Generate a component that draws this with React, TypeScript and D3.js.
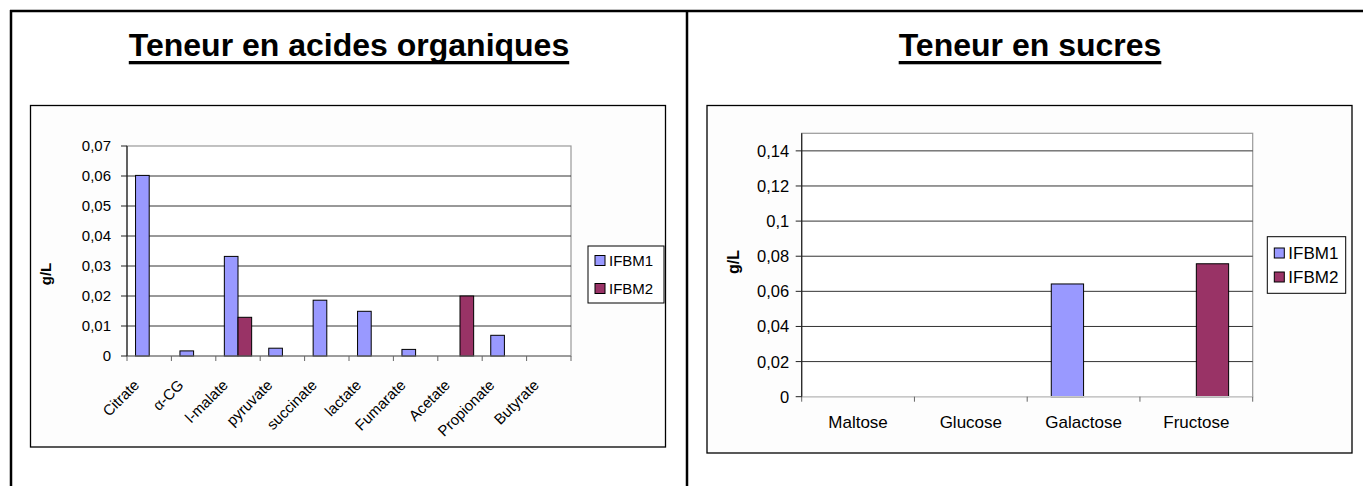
import React, { useLayoutEffect, useRef, useState } from "react";
import * as d3 from "d3";

// ---------- DATA ----------
const SERIES = ["IFBM1", "IFBM2"];
const COLORS = ["#9999FF", "#993366"];

const ACID_CATEGORIES = ["Citrate", "α-CG", "l-malate", "pyruvate", "succinate", "lactate", "Fumarate", "Acetate", "Propionate", "Butyrate"];
const ACID_IFBM1 = [0.0602, 0.0017, 0.0332, 0.0026, 0.0186, 0.0149, 0.0022, 0, 0.0069, 0];
const ACID_IFBM2 = [0, 0, 0.0129, 0, 0, 0, 0, 0.0200, 0, 0];
const ACID_TICKS = [0, 0.01, 0.02, 0.03, 0.04, 0.05, 0.06, 0.07];

const SUGAR_CATEGORIES = ["Maltose", "Glucose", "Galactose", "Fructose"];
const SUGAR_IFBM1 = [0, 0, 0.0642, 0];
const SUGAR_IFBM2 = [0, 0, 0, 0.0757];
const SUGAR_TICKS = [0, 0.02, 0.04, 0.06, 0.08, 0.1, 0.12, 0.14];

const FONT = "'Liberation Sans', Arial, Helvetica, sans-serif";
const fr = d3.formatLocale({ decimal: ",", thousands: " ", grouping: [3], currency: ["", "€"] });
const fmt = fr.format(".2~f");

function Title({ text, cx, y }: { text: string; cx: number; y: number }) {
  const ref = useRef<SVGTextElement>(null);
  const [w, setW] = useState(0);
  useLayoutEffect(() => {
    if (ref.current) setW(ref.current.getComputedTextLength());
  }, [text]);
  return (
    <g>
      <text ref={ref} x={cx} y={y} textAnchor="middle" fontFamily={FONT} fontWeight="bold" fontSize={32} fill="#000">
        {text}
      </text>
      {w > 0 && <rect x={cx - w / 2} y={y + 5} width={w} height={3.3} fill="#000" />}
    </g>
  );
}

type ChartProps = {
  box: [number, number, number, number];
  plot: { x0: number; x1: number; y0: number; yTop: number };
  domainMax: number;
  ticks: number[];
  categories: string[];
  values: number[][];
  groupFrac: number;
  tickFont: number;
  tickLabelGap: number;
  catFont: number;
  rotated: boolean;
  legend: { x: number; y: number; w: number; h: number; font: number; rowGap: number };
  ylabel: { x: number; y: number; font: number };
  xAxisColor: string;
};

function BarChart(p: ChartProps) {
  const { plot } = p;
  const y = d3.scaleLinear().domain([0, p.domainMax]).range([plot.y0, plot.yTop]);
  const x0 = d3.scaleBand().domain(p.categories).range([plot.x0, plot.x1]).paddingInner(0).paddingOuter(0);
  const bw = x0.bandwidth();
  const gap = bw * (1 - p.groupFrac);
  const x1 = d3.scaleBand().domain(SERIES).range([gap / 2, bw - gap / 2]).padding(0);
  const [bx, by, bwid, bh] = p.box;
  const gridTicks = p.ticks.filter((t) => t > 0);
  const boundaries = d3.range(p.categories.length + 1).map((i) => plot.x0 + i * bw);
  return (
    <g>
      <rect x={bx} y={by} width={bwid} height={bh} fill="#fdfdfd" stroke="#000" strokeWidth={1.3} />
      {/* plot area border */}
      <rect x={plot.x0} y={plot.yTop} width={plot.x1 - plot.x0} height={plot.y0 - plot.yTop} fill="#fff" stroke="#999" strokeWidth={1.2} />
      {/* gridlines */}
      {gridTicks.map((t) =>
        Math.abs(y(t) - plot.yTop) < 0.5 ? null : (
          <line key={t} x1={plot.x0} x2={plot.x1} y1={y(t)} y2={y(t)} stroke="#333" strokeWidth={1} />
        )
      )}
      {/* bars */}
      {p.categories.map((c, ci) =>
        SERIES.map((s, si) => {
          const v = p.values[si][ci];
          if (!v) return null;
          return (
            <rect
              key={c + s}
              x={(x0(c) as number) + (x1(s) as number)}
              y={y(v)}
              width={x1.bandwidth()}
              height={plot.y0 - y(v)}
              fill={COLORS[si]}
              stroke="#000"
              strokeWidth={1}
            />
          );
        })
      )}
      {/* x axis */}
      <line x1={plot.x0} x2={plot.x1} y1={plot.y0} y2={plot.y0} stroke={p.xAxisColor} strokeWidth={1.2} />
      {boundaries.map((bxv, i) => (
        <line key={i} x1={bxv} x2={bxv} y1={plot.y0} y2={plot.y0 + 5} stroke="#666" strokeWidth={1} />
      ))}
      {/* y axis */}
      <line x1={plot.x0} x2={plot.x0} y1={plot.yTop} y2={plot.y0} stroke="#222" strokeWidth={1.2} />
      {p.ticks.map((t) => (
        <g key={t}>
          <line x1={plot.x0 - 6} x2={plot.x0} y1={y(t)} y2={y(t)} stroke="#222" strokeWidth={1} />
          <text x={plot.x0 - p.tickLabelGap} y={y(t)} dy="0.36em" textAnchor="end" fontFamily={FONT} fontSize={p.tickFont} fill="#000">
            {fmt(t)}
          </text>
        </g>
      ))}
      {/* category labels */}
      {p.categories.map((c) => {
        const cx = (x0(c) as number) + bw / 2;
        if (p.rotated) {
          const ax = cx - 9;
          const ay = plot.y0 + 30;
          return (
            <text key={c} x={ax} y={ay} transform={`rotate(-45 ${ax} ${ay})`} textAnchor="end" fontFamily={FONT} fontSize={p.catFont} fill="#000">
              {c}
            </text>
          );
        }
        return (
          <text key={c} x={cx} y={plot.y0 + 31} textAnchor="middle" fontFamily={FONT} fontSize={p.catFont} fill="#000">
            {c}
          </text>
        );
      })}
      {/* y label */}
      <text
        x={p.ylabel.x}
        y={p.ylabel.y}
        transform={`rotate(-90 ${p.ylabel.x} ${p.ylabel.y})`}
        textAnchor="middle"
        dy="0.35em"
        fontFamily={FONT}
        fontWeight="bold"
        fontSize={p.ylabel.font}
        fill="#000"
      >
        g/L
      </text>
      {/* legend */}
      <rect x={p.legend.x} y={p.legend.y} width={p.legend.w} height={p.legend.h} fill="#fff" stroke="#000" strokeWidth={1} />
      {SERIES.map((s, i) => {
        const ry = p.legend.y + p.legend.h / 2 + (i - 0.5) * p.legend.rowGap;
        return (
          <g key={s}>
            <rect x={p.legend.x + 7} y={ry - 5} width={10} height={10} fill={COLORS[i]} stroke="#000" strokeWidth={1} />
            <text x={p.legend.x + 21} y={ry} dy="0.36em" fontFamily={FONT} fontSize={p.legend.font} fill="#000">
              {s}
            </text>
          </g>
        );
      })}
    </g>
  );
}

export default function App() {
  return (
    <svg width={1363} height={486} style={{ position: "absolute", left: 0, top: 0, background: "#fff" }}>
      {/* table borders */}
      <line x1={10} x2={1363} y1={11} y2={11} stroke="#000" strokeWidth={2.5} />
      <line x1={11} x2={11} y1={10} y2={486} stroke="#000" strokeWidth={2.5} />
      <line x1={687} x2={687} y1={10} y2={486} stroke="#000" strokeWidth={2.5} />

      <Title text="Teneur en acides organiques" cx={349} y={56} />
      <Title text="Teneur en sucres" cx={1030} y={56} />

      <BarChart
        box={[30.5, 105.5, 635, 341.5]}
        plot={{ x0: 127, x1: 571, y0: 356, yTop: 146 }}
        domainMax={0.07}
        ticks={ACID_TICKS}
        categories={ACID_CATEGORIES}
        values={[ACID_IFBM1, ACID_IFBM2]}
        groupFrac={0.615}
        tickFont={15}
        tickLabelGap={16}
        catFont={15}
        rotated={true}
        legend={{ x: 588, y: 246, w: 76, h: 57, font: 15, rowGap: 28 }}
        ylabel={{ x: 46, y: 274, font: 15 }}
        xAxisColor="#777"
      />

      <BarChart
        box={[707, 105.5, 645, 347.5]}
        plot={{ x0: 801.7, x1: 1252.7, y0: 396.7, yTop: 133.3 }}
        domainMax={0.15}
        ticks={SUGAR_TICKS}
        categories={SUGAR_CATEGORIES}
        values={[SUGAR_IFBM1, SUGAR_IFBM2]}
        groupFrac={0.573}
        tickFont={16.5}
        tickLabelGap={12.5}
        catFont={17}
        rotated={false}
        legend={{ x: 1267.3, y: 236.7, w: 78.4, h: 56.6, font: 17, rowGap: 24 }}
        ylabel={{ x: 733, y: 262, font: 16 }}
        xAxisColor="#c8c8c8"
      />
    </svg>
  );
}
